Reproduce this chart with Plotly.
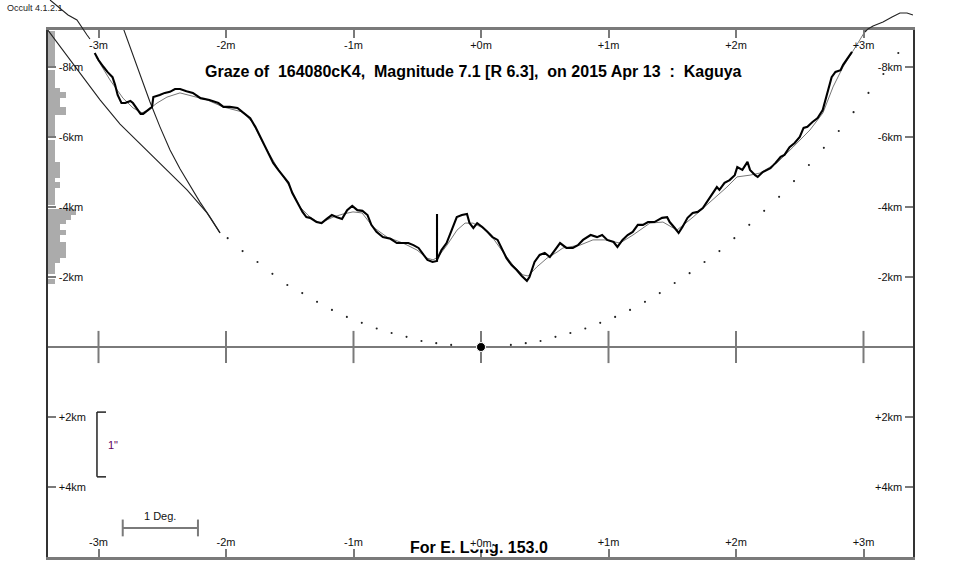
import plotly.graph_objects as go

# ---------------- DATA (time in minutes from central graze, height in km; negative = up) ----------------
profile_t = [-3.03,-3.00,-2.96,-2.93,-2.89,-2.87,-2.85,-2.82,-2.79,-2.75,
             -2.73,-2.70,-2.67,-2.65,-2.61,-2.58,-2.57,-2.54,-2.52,-2.48,
             -2.44,-2.40,-2.36,-2.31,-2.26,-2.20,-2.13,-2.06,-2.02,-1.97,
             -1.91,-1.87,-1.81,-1.77,-1.73,-1.71,-1.67,-1.63,-1.59,-1.55,
             -1.51,-1.48,-1.44,-1.40,-1.37,-1.34,-1.29,-1.25,-1.21,-1.17,
             -1.13,-1.09,-1.05,-1.01,-0.97,-0.93,-0.89,-0.86,-0.82,-0.77,
             -0.71,-0.66,-0.61,-0.57,-0.53,-0.49,-0.45,-0.42,-0.38,
             -0.345,-0.345,-0.345,
             -0.31,-0.27,-0.23,-0.19,-0.15,-0.11,-0.09,-0.06,-0.03,0.01,
             0.05,0.09,0.13,0.17,0.20,0.24,0.28,0.32,0.36,0.38,
             0.42,0.46,0.50,0.54,0.58,0.62,0.67,0.72,0.76,0.80,
             0.86,0.91,0.95,0.99,1.04,1.07,1.11,1.15,1.19,1.23,
             1.27,1.31,1.36,1.42,1.46,1.48,1.52,1.55,1.58,1.62,
             1.66,1.70,1.74,1.77,1.81,1.85,1.87,1.91,1.95,1.99,
             2.01,2.05,2.09,2.11,2.15,2.17,2.21,2.27,2.31,2.35,
             2.38,2.42,2.46,2.50,2.53,2.56,2.60,2.64,2.68,2.70,
             2.72,2.75,2.78,2.82,2.84,2.88,2.91]
profile_h = [-8.40,-8.20,-8.00,-7.86,-7.71,-7.49,-7.20,-6.97,-6.97,-7.03,
             -6.97,-6.83,-6.66,-6.66,-6.77,-6.86,-7.14,-7.17,-7.20,-7.26,
             -7.29,-7.37,-7.37,-7.31,-7.26,-7.11,-7.06,-6.97,-6.86,-6.86,
             -6.83,-6.71,-6.54,-6.29,-6.00,-5.83,-5.54,-5.26,-5.06,-4.86,
             -4.69,-4.40,-4.11,-3.86,-3.71,-3.69,-3.57,-3.54,-3.66,-3.77,
             -3.71,-3.66,-3.91,-4.03,-3.91,-3.89,-3.77,-3.49,-3.29,-3.14,
             -3.09,-2.97,-2.97,-2.97,-2.91,-2.83,-2.63,-2.49,-2.43,
             -2.46,-3.80,-2.49,
             -2.77,-2.97,-3.34,-3.71,-3.77,-3.80,-3.54,-3.40,-3.54,-3.43,
             -3.29,-3.14,-3.06,-2.77,-2.54,-2.34,-2.20,-2.03,-1.89,-2.00,
             -2.43,-2.63,-2.69,-2.57,-2.77,-2.97,-2.83,-2.83,-2.91,-3.06,
             -3.20,-3.14,-3.20,-3.06,-3.00,-2.86,-3.06,-3.20,-3.29,-3.49,
             -3.49,-3.57,-3.57,-3.69,-3.71,-3.57,-3.40,-3.26,-3.43,-3.69,
             -3.83,-3.86,-3.97,-4.14,-4.34,-4.57,-4.49,-4.69,-4.77,-4.91,
             -5.14,-5.06,-5.29,-5.06,-4.91,-4.86,-5.00,-5.11,-5.26,-5.43,
             -5.49,-5.71,-5.83,-6.00,-6.26,-6.29,-6.43,-6.54,-6.77,-7.06,
             -7.34,-7.71,-7.86,-7.91,-8.06,-8.29,-8.43]

smooth_t = [-3.020,-2.910,-2.808,-2.729,-2.659,-2.612,-2.541,-2.463,-2.361,-2.259,
            -2.149,-2.024,-1.867,-1.788,-1.710,-1.600,-1.498,-1.420,-1.341,-1.263,
            -1.161,-1.082,-1.004,-0.933,-0.847,-0.737,-0.612,-0.502,-0.424,-0.376,
            -0.337,-0.267,-0.188,-0.125,-0.063,0.016,0.094,0.173,0.251,0.329,
            0.369,0.439,0.518,0.596,0.643,0.776,0.878,0.973,1.090,1.192,
            1.325,1.427,1.537,1.663,1.796,1.929,2.008,2.110,2.188,2.322,
            2.447,2.580,2.682,2.761,2.839,2.910,2.957,3.027]
smooth_h = [-8.29,-7.63,-7.11,-6.83,-6.69,-6.77,-6.97,-7.14,-7.26,-7.17,
            -7.06,-6.86,-6.71,-6.40,-5.83,-5.14,-4.57,-4.00,-3.71,-3.54,
            -3.71,-3.80,-3.86,-3.83,-3.43,-3.14,-2.97,-2.77,-2.54,-2.49,
            -2.57,-2.91,-3.34,-3.54,-3.54,-3.40,-3.11,-2.71,-2.34,-2.06,
            -2.03,-2.29,-2.54,-2.71,-2.83,-2.91,-3.06,-3.06,-2.97,-3.20,
            -3.54,-3.57,-3.34,-3.71,-4.14,-4.57,-4.86,-4.91,-4.97,-5.26,
            -5.71,-6.20,-6.69,-7.43,-8.00,-8.40,-8.69,-9.11]

# continuation of the limb profile outside the frame
outL_t = [-3.380,-3.302,-3.239,-3.169,-3.129,-3.090,-3.067]
outL_h = [-9.914,-9.686,-9.486,-9.343,-9.114,-8.914,-8.800]
outR_t = [3.012,3.035,3.075,3.153,3.224,3.286,3.341,3.388]
outR_h = [-9.000,-9.086,-9.171,-9.286,-9.429,-9.543,-9.543,-9.486]

# the two limb curves at upper left
limbA_t = [-3.427,-3.224,-2.988,-2.831,-2.596,-2.306,-2.149,-2.047]
limbA_h = [-9.20,-8.20,-7.06,-6.37,-5.54,-4.49,-3.83,-3.26]
limbB_t = [-2.824,-2.753,-2.675,-2.596,-2.518,-2.439,-2.361,-2.282,-2.204,-2.125,-2.047]
limbB_h = [-9.29,-8.57,-7.77,-7.00,-6.29,-5.63,-5.09,-4.60,-4.14,-3.71,-3.26]

# dotted mean-limb arc
dots_t = [-1.987,-1.870,-1.753,-1.636,-1.519,-1.402,-1.286,-1.169,-1.052,-0.935,
          -0.818,-0.701,-0.584,-0.467,-0.351,-0.234,
          0.234,0.351,0.467,0.584,0.701,0.818,0.935,1.052,1.169,1.286,
          1.402,1.519,1.636,1.753,1.870,1.987,2.104,2.221,2.338,2.455,
          2.572,2.689,2.806,2.922,3.039,3.156,3.273]
dots_h = [-3.11,-2.74,-2.43,-2.09,-1.77,-1.54,-1.29,-1.06,-0.86,-0.69,
          -0.53,-0.40,-0.29,-0.17,-0.11,-0.06,
          -0.06,-0.11,-0.17,-0.29,-0.40,-0.53,-0.69,-0.86,-1.06,-1.29,
          -1.54,-1.83,-2.11,-2.43,-2.74,-3.11,-3.49,-3.89,-4.29,-4.74,
          -5.20,-5.69,-6.17,-6.71,-7.26,-7.80,-8.40]
center_t = [0.0]
center_h = [0.0]

# histogram of profile heights (left edge)
hist_top = [-9.03,-7.91,-7.40,-7.29,-7.11,-6.86,-6.63,-5.91,-5.29,-4.83,-4.71,
            -4.54,-3.94,-3.77,-3.63,-3.51,-3.34,-3.20,-3.00,-2.54,-2.40,-1.94]
hist_bot = [-7.97,-7.40,-7.29,-7.11,-6.86,-6.63,-6.03,-5.29,-4.83,-4.71,-4.54,
            -4.06,-3.77,-3.63,-3.51,-3.34,-3.20,-3.00,-2.54,-2.40,-2.09,-1.80]
hist_count = [4,4,7,10,7,10,4,4,7,4,7,4,16,13,10,7,10,7,10,7,4,4]

x_ticks = [-3, -2, -1, 0, 1, 2, 3]
x_ticklabels = ["-3m", "-2m", "-1m", "+0m", "+1m", "+2m", "+3m"]
y_ticks = [-8, -6, -4, -2, 2, 4]
y_ticklabels = ["-8km", "-6km", "-4km", "-2km", "+2km", "+4km"]

assert len(profile_t) == len(profile_h)
assert len(smooth_t) == len(smooth_h)
assert len(dots_t) == len(dots_h)
assert len(limbB_t) == len(limbB_h) and len(limbA_t) == len(limbA_h)

# ---------------- LAYOUT CONSTANTS ----------------
W, H = 961, 587
PX_L, PX_R, PX_T, PX_B = 48, 913, 30, 557
X0_PX, Y0_PX, PX_PER_MIN, PX_PER_KM = 481, 347, 127.5, 35.0
X_RANGE = [(PX_L - X0_PX) / PX_PER_MIN, (PX_R - X0_PX) / PX_PER_MIN]
Y_RANGE = [(PX_B - Y0_PX) / PX_PER_KM, (PX_T - Y0_PX) / PX_PER_KM]
X2_RANGE = [(0 - X0_PX) / PX_PER_MIN, (W - X0_PX) / PX_PER_MIN]
Y2_RANGE = [(H - Y0_PX) / PX_PER_KM, (0 - Y0_PX) / PX_PER_KM]
HIST_MIN_PER_COUNT = 1.75 / PX_PER_MIN

FONT = "Liberation Sans, Arial, sans-serif"
GRAY = "#7a7a7a"
NB = "\u00a0"

fig = go.Figure()

# histogram bars
fig.add_trace(go.Bar(
    orientation="h",
    y=[(a + b) / 2 for a, b in zip(hist_top, hist_bot)],
    width=[b - a for a, b in zip(hist_top, hist_bot)],
    x=[c * HIST_MIN_PER_COUNT for c in hist_count],
    base=X_RANGE[0],
    marker=dict(color="#ababab", line=dict(width=0)),
    hoverinfo="skip", xaxis="x", yaxis="y"))

# limb curves
for tt, hh in ((limbA_t, limbA_h), (limbB_t, limbB_h)):
    fig.add_trace(go.Scatter(x=tt, y=hh, mode="lines",
                             line=dict(color="#222222", width=1.1),
                             hoverinfo="skip", xaxis="x", yaxis="y"))

# dotted arc
fig.add_trace(go.Scatter(x=dots_t, y=dots_h, mode="markers",
                         marker=dict(color="#222222", size=2.1),
                         hoverinfo="skip", xaxis="x", yaxis="y"))

# middle reference ticks
fig.add_trace(go.Scatter(x=x_ticks, y=[0] * len(x_ticks), mode="markers",
                         marker=dict(symbol="line-ns", size=23,
                                     line=dict(color=GRAY, width=2)),
                         hoverinfo="skip", xaxis="x", yaxis="y"))

# smoothed profile
fig.add_trace(go.Scatter(x=smooth_t, y=smooth_h, mode="lines",
                         line=dict(color="#777777", width=1.0),
                         hoverinfo="skip", xaxis="x", yaxis="y"))
# profile
fig.add_trace(go.Scatter(x=profile_t, y=profile_h, mode="lines",
                         line=dict(color="#000000", width=2.1),
                         hoverinfo="skip", xaxis="x", yaxis="y"))

# center point
fig.add_trace(go.Scatter(x=center_t, y=center_h, mode="markers",
                         marker=dict(color="#000000", size=9,
                                     line=dict(color="white", width=1)),
                         hoverinfo="skip", xaxis="x", yaxis="y"))

# outside-frame continuation (full-figure axes)
for tt, hh in ((outL_t, outL_h), (outR_t, outR_h)):
    fig.add_trace(go.Scatter(x=tt, y=hh, mode="lines",
                             line=dict(color="#222222", width=1.1),
                             hoverinfo="skip", xaxis="x2", yaxis="y2"))

# helper invisible traces so overlay axes render
fig.add_trace(go.Scatter(x=[x_ticks[0]], y=[y_ticks[0]], mode="markers",
                         marker=dict(opacity=0), hoverinfo="skip",
                         xaxis="x3", yaxis="y"))
fig.add_trace(go.Scatter(x=[x_ticks[0]], y=[y_ticks[0]], mode="markers",
                         marker=dict(opacity=0), hoverinfo="skip",
                         xaxis="x", yaxis="y3"))

tickfont = dict(family=FONT, size=11, color="#111111")
common_x = dict(range=X_RANGE, ticks="inside", ticklen=8, tickwidth=2,
                tickcolor=GRAY, tickvals=x_ticks, ticklabelposition="inside",
                tickfont=tickfont, showgrid=False, zeroline=False, fixedrange=True)
common_y = dict(range=Y_RANGE, ticks="inside", ticklen=8, tickwidth=2,
                tickcolor=GRAY, tickvals=y_ticks, ticktext=y_ticklabels,
                ticklabelposition="inside", tickfont=tickfont, ticklabelstandoff=2,
                showgrid=False, zeroline=False, fixedrange=True)

bottom_labels = [lab if v != 0 else "" for v, lab in zip(x_ticks, x_ticklabels)]

SCALE_DEG_T = [-2.81, -2.22]
SCALE_DEG_H = 5.17
SCALE_CAP = 0.24
ARCSEC_T = [-3.012, -2.941]
ARCSEC_H = [1.86, 3.71]

shapes = [
    dict(type="line", xref="x domain", x0=0, x1=1, yref="y", y0=0, y1=0,
         line=dict(color=GRAY, width=2), layer="below"),
    # 1 Deg scale bar
    dict(type="line", xref="x", yref="y", x0=SCALE_DEG_T[0], x1=SCALE_DEG_T[1],
         y0=SCALE_DEG_H, y1=SCALE_DEG_H, line=dict(color=GRAY, width=2)),
    dict(type="line", xref="x", yref="y", x0=SCALE_DEG_T[0], x1=SCALE_DEG_T[0],
         y0=SCALE_DEG_H - SCALE_CAP, y1=SCALE_DEG_H + SCALE_CAP, line=dict(color=GRAY, width=2)),
    dict(type="line", xref="x", yref="y", x0=SCALE_DEG_T[1], x1=SCALE_DEG_T[1],
         y0=SCALE_DEG_H - SCALE_CAP, y1=SCALE_DEG_H + SCALE_CAP, line=dict(color=GRAY, width=2)),
    # 1" bracket
    dict(type="line", xref="x", yref="y", x0=ARCSEC_T[0], x1=ARCSEC_T[0],
         y0=ARCSEC_H[0], y1=ARCSEC_H[1], line=dict(color="#222", width=1.5)),
    dict(type="line", xref="x", yref="y", x0=ARCSEC_T[0], x1=ARCSEC_T[1],
         y0=ARCSEC_H[0], y1=ARCSEC_H[0], line=dict(color="#222", width=1.5)),
    dict(type="line", xref="x", yref="y", x0=ARCSEC_T[0], x1=ARCSEC_T[1],
         y0=ARCSEC_H[1], y1=ARCSEC_H[1], line=dict(color="#222", width=1.5)),
]

title_text = ("Graze of" + NB * 2 + "164080cK4," + NB * 2 + "Magnitude 7.1 [R 6.3],"
              + NB * 2 + "on 2015 Apr 13" + NB * 2 + ":" + NB * 2 + "Kaguya")

annotations = [
    dict(text="Occult 4.1.2.1", xref="paper", yref="paper", x=5 / W, y=1 - 8.5 / H,
         xanchor="left", yanchor="middle", showarrow=False,
         font=dict(family=FONT, size=9, color="#222")),
    dict(text="<b>" + title_text + "</b>", xref="paper", yref="paper",
         x=473 / W, y=1 - 72 / H, xanchor="center", yanchor="middle", showarrow=False,
         font=dict(family=FONT, size=16, color="#000")),
    dict(text="<b>For E. Long. 153.0</b>", xref="paper", yref="paper",
         x=479 / W, y=1 - 547 / H, xanchor="center", yanchor="middle", showarrow=False,
         font=dict(family=FONT, size=16, color="#000")),
    dict(text=x_ticklabels[3], xref="x", yref="paper", x=0, y=1 - 543 / H,
         xanchor="center", yanchor="middle", showarrow=False, bgcolor="white",
         borderpad=0, font=dict(family=FONT, size=11, color="#111")),
    dict(text="1 Deg.", xref="paper", yref="paper", x=160 / W, y=1 - 516 / H,
         xanchor="center", yanchor="middle", showarrow=False,
         font=dict(family=FONT, size=11, color="#111")),
    dict(text="1\"", xref="paper", yref="paper", x=113 / W, y=1 - 445 / H,
         xanchor="center", yanchor="middle", showarrow=False,
         font=dict(family=FONT, size=11, color="#600060")),
]

fig.update_layout(
    width=W, height=H, margin=dict(l=0, r=0, t=0, b=0, pad=0),
    paper_bgcolor="white", plot_bgcolor="rgba(0,0,0,0)", showlegend=False,
    bargap=0,
    xaxis=dict(domain=[PX_L / W, PX_R / W], side="top", anchor="y",
               showline=True, linecolor=GRAY, linewidth=2.5, mirror=True,
               ticktext=x_ticklabels, ticklabelstandoff=3, **common_x),
    xaxis3=dict(overlaying="x", anchor="y", side="bottom", showline=False,
                ticktext=bottom_labels, **common_x),
    yaxis=dict(domain=[1 - PX_B / H, 1 - PX_T / H], side="left", anchor="x",
               showline=True, linecolor="#333333", linewidth=2, mirror=True, **common_y),
    yaxis3=dict(overlaying="y", anchor="x", side="right", showline=False, **common_y),
    xaxis2=dict(domain=[0, 1], range=X2_RANGE, anchor="y2", visible=False, fixedrange=True),
    yaxis2=dict(domain=[0, 1], range=Y2_RANGE, anchor="x2", visible=False, fixedrange=True),
    shapes=shapes, annotations=annotations,
)

fig.write_html("out.html", config={"displayModeBar": False},
               post_script="document.body.style.margin='0';")
